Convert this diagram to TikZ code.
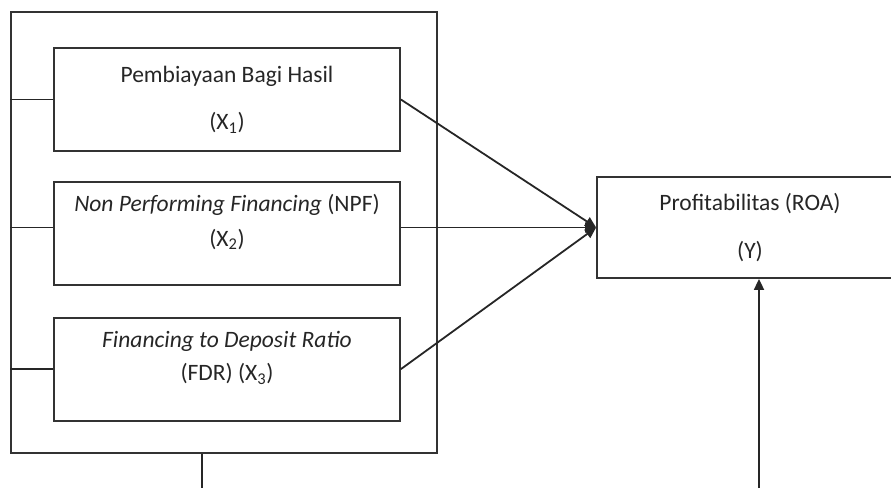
\documentclass[tikz,border=0pt]{standalone}
\usepackage{fontspec}
\setmainfont{Carlito}
\usetikzlibrary{arrows.meta,positioning}
\tikzset{
  varbox/.style={draw=black!80, line width=1.8pt, minimum width=346pt, minimum height=103pt, align=center, inner sep=0pt, text=black!85, font=\fontsize{23.5}{28}\selectfont},
  link/.style={draw=black!85, line width=1.8pt}
}

\begin{document}
\begin{tikzpicture}[x=1pt, y=-1pt, >={Triangle[length=11pt,width=10pt]}]
      \useasboundingbox (0,0) rectangle (891,488);
      % grouping frame round the three variables
      \node[draw=black!80, line width=1.8pt, minimum width=426pt, minimum height=441pt, inner sep=0pt] (group) at (224,232.5) {};
      \node[varbox] (bagihasil) at (227,99.5) {Pembiayaan Bagi Hasil\\[19pt](X\textsubscript{1})};
      \node[varbox, below=29pt of bagihasil] (npf) {\textit{Non Performing Financing} (NPF)\\[7pt](X\textsubscript{2})\\[-10pt]\strut};
      \node[varbox, below=31pt of npf] (fdr) {\textit{Financing to Deposit Ratio}\\[5pt](FDR) (X\textsubscript{3})\\[-10pt]\strut};
      \node[varbox, minimum width=306pt, minimum height=101pt] (roa) at (750,227.5) {Profitabilitas (ROA)\\[20pt](Y)};
      \coordinate (stem) at (202,488);
      \coordinate (feed) at (759,488);
      \draw[link] (bagihasil.west) -- (bagihasil.west -| group.west);
      \draw[link] (npf.west |- roa.west) -- (group.west |- roa.west);
      \draw[link] (fdr.west) -- (fdr.west -| group.west);
      \draw[link, ->] (bagihasil.east) -- (roa.west);
      \draw[link, ->] (npf.east |- roa.west) -- (roa.west);
      \draw[link, ->] (fdr.east) -- (roa.west);
      \draw[link] (stem |- group.south) -- (stem);
      \draw[link, ->] (feed) -- (feed |- roa.south);
    \end{tikzpicture}
\end{document}
